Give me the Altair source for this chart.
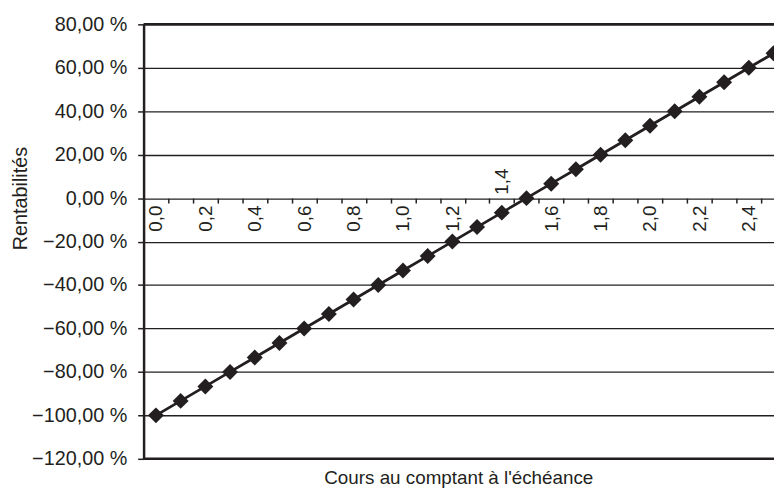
import altair as alt
import pandas as pd

# Spot price at maturity (categories) and returns (%)
spot_labels = ["0,0", "0,1", "0,2", "0,3", "0,4", "0,5", "0,6", "0,7", "0,8", "0,9",
               "1,0", "1,1", "1,2", "1,3", "1,4", "1,5", "1,6", "1,7", "1,8", "1,9",
               "2,0", "2,1", "2,2", "2,3", "2,4", "2,5"]
returns_pct = [-100.0, -93.33, -86.67, -80.0, -73.33, -66.67, -60.0, -53.33, -46.67, -40.0,
               -33.33, -26.67, -20.0, -13.33, -6.67, 0.0, 6.67, 13.33, 20.0, 26.67,
               33.33, 40.0, 46.67, 53.33, 60.0, 66.67]
y_ticks = [-120, -100, -80, -60, -40, -20, 0, 20, 40, 60, 80]
frame_values = [80, -120]
x_shown_below = ["0,0", "0,2", "0,4", "0,6", "0,8", "1,0", "1,2",
                 "1,6", "1,8", "2,0", "2,2", "2,4"]
x_shown_above = ["1,4"]

df = pd.DataFrame({"spot": spot_labels, "ret": returns_pct})
frame_df = pd.DataFrame({"ret": frame_values})

W = 637
H = 439
W_EXT = 649   # scale range extends past the (cropped) right edge
Y_MIN, Y_MAX = -120, 80
zero_pos = H * (Y_MAX - 0) / (Y_MAX - Y_MIN)

FONT = "Liberation Sans"
INK = "#231f20"

xscale = alt.Scale(type="band", domain=spot_labels, range=[0, W_EXT],
                   paddingInner=0, paddingOuter=0)
yscale = alt.Scale(domain=[Y_MIN, Y_MAX], nice=False, zero=False)

below_test = " || ".join([f"datum.value === '{v}'" for v in x_shown_below])

x_axis_main = alt.Axis(
    orient="bottom", offset=-(H - zero_pos), values=spot_labels[:-1],
    tickBand="extent", ticks=True, tickSize=5, tickColor=INK, tickWidth=1.5,
    domain=False, grid=False, labelAngle=270, labelPadding=2,
    labelExpr=f"({below_test}) ? datum.label : ''",
    labelFont=FONT, labelFontSize=19, labelColor=INK, labelOverlap=False,
    title=None,
)
x_axis_top = alt.Axis(
    orient="top", offset=-zero_pos, values=x_shown_above,
    ticks=False, domain=False, grid=False, labelAngle=270, labelPadding=4,
    labelFont=FONT, labelFontSize=19, labelColor=INK, labelOverlap=False,
    title=None,
)
y_axis = alt.Axis(
    orient="left", values=y_ticks, grid=True, gridColor=INK, gridWidth=1.3,
    domain=True, domainColor=INK, domainWidth=2.5,
    ticks=True, tickSize=6, tickColor=INK, tickWidth=1.5,
    labelExpr="replace(format(datum.value, '.2f'), '.', ',') + ' %'",
    labelFont=FONT, labelFontSize=20, labelColor=INK, labelPadding=11,
    title="Rentabilités", titleFont=FONT, titleFontSize=20, titleFontWeight="normal",
    titleColor=INK, titlePadding=1, titleY=zero_pos,
)

frame = alt.Chart(frame_df).mark_rule(color=INK, strokeWidth=2.5).encode(
    y=alt.Y("ret:Q", scale=yscale, axis=y_axis),
)
line = alt.Chart(df).mark_line(color=INK, strokeWidth=2.8, clip=True).encode(
    x=alt.X("spot:O", sort=spot_labels, scale=xscale, axis=x_axis_main),
    y=alt.Y("ret:Q", scale=yscale, axis=y_axis),
)
points = alt.Chart(df).mark_point(shape="diamond", filled=True, size=260, opacity=1,
                                  color=INK, clip=True).encode(
    x=alt.X("spot:O", sort=spot_labels, scale=xscale, axis=x_axis_top),
    y=alt.Y("ret:Q", scale=yscale, axis=y_axis),
)

chart = alt.layer(frame, line, points).properties(
    width=W, height=H,
    autosize=alt.AutoSizeParams(type="none"),
    padding={"left": 137, "top": 14, "right": 0, "bottom": 30},
    title=alt.TitleParams("Cours au comptant à l'échéance", orient="bottom", anchor="middle",
                          font=FONT, fontSize=19, fontWeight="normal", color=INK, offset=0),
).configure_view(stroke="transparent")

chart.save("out.html", embed_options={"renderer": "svg", "actions": False})
